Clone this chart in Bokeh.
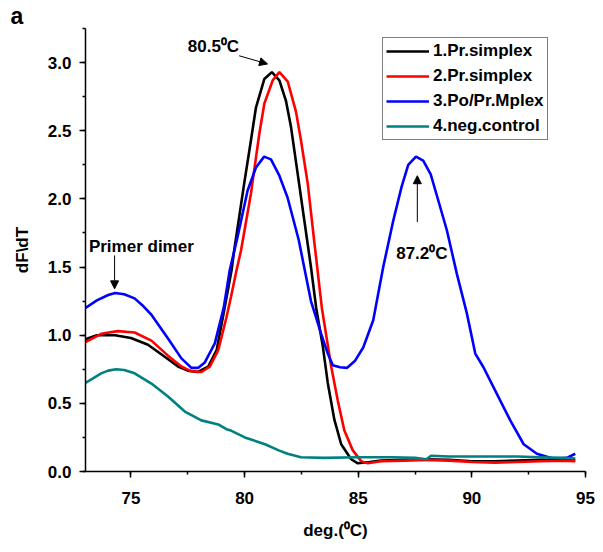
from bokeh.plotting import figure
from bokeh.models import (Range1d, SingleIntervalTicker, NumeralTickFormatter,
                          Legend, LegendItem, Label, Arrow, NormalHead)
from bokeh.embed import file_html
from bokeh.resources import INLINE

FONT = "Liberation Sans"

# ---------------- data ----------------
x_black = [73.0, 73.5, 74.3, 75.0, 75.75, 76.5, 77.07, 77.5, 77.95, 78.4, 78.77, 79.12,
           79.43, 79.54, 79.98, 80.28, 80.5, 80.87, 81.2, 81.53, 81.82, 82.04, 82.34,
           82.63, 82.92, 83.15, 83.44, 83.66, 83.95, 84.25, 84.69, 84.98, 85.5, 86.0,
           87.0, 88.0, 89.0, 90.0, 91.0, 92.0, 93.0, 94.55]
y_black = [0.97, 1.00, 1.00, 0.98, 0.93, 0.84, 0.77, 0.74, 0.73, 0.77, 0.89, 1.20,
           1.48, 1.62, 2.11, 2.43, 2.67, 2.88, 2.93, 2.87, 2.72, 2.53, 2.18,
           1.84, 1.50, 1.20, 0.92, 0.65, 0.38, 0.20, 0.09, 0.06, 0.07, 0.08,
           0.085, 0.09, 0.085, 0.075, 0.075, 0.08, 0.085, 0.085]

x_red = [73.0, 73.69, 74.42, 75.16, 75.9, 76.63, 77.22, 77.66, 78.1, 78.47, 78.84, 79.2,
         79.4, 79.65, 79.84, 80.28, 80.65, 80.87, 81.24, 81.53, 81.9, 82.26, 82.48,
         82.78, 83.07, 83.4, 83.81, 84.1, 84.39, 84.76, 85.13, 85.42, 86.0, 87.0,
         88.0, 89.0, 90.0, 91.0, 92.0, 93.0, 94.0, 94.55]
y_red = [0.95, 1.01, 1.03, 1.02, 0.96, 0.85, 0.77, 0.735, 0.73, 0.77, 0.89, 1.13,
         1.28, 1.48, 1.62, 2.04, 2.48, 2.70, 2.87, 2.93, 2.86, 2.64, 2.43,
         2.11, 1.68, 1.20, 0.77, 0.52, 0.30, 0.155, 0.076, 0.06, 0.075, 0.08,
         0.085, 0.08, 0.07, 0.065, 0.07, 0.075, 0.08, 0.075]

x_blue = [73.0, 73.5, 74.0, 74.3, 74.7, 75.16, 75.5, 75.9, 76.63, 77.22, 77.66, 77.95,
          78.25, 78.69, 79.08, 79.35, 79.69, 80.13, 80.5, 80.86, 81.16, 81.53, 81.89,
          82.38, 82.92, 83.37, 83.66, 83.88, 84.2, 84.5, 84.85, 85.22, 85.66, 86.1,
          86.54, 86.91, 87.2, 87.54, 87.86, 88.19, 88.52, 88.9, 89.34, 89.78, 90.15,
          90.51, 91.1, 91.69, 92.28, 92.86, 93.6, 94.18, 94.55]
y_blue = [1.20, 1.255, 1.295, 1.31, 1.30, 1.27, 1.22, 1.15, 0.975, 0.83, 0.76, 0.76,
          0.80, 0.94, 1.20, 1.48, 1.72, 2.06, 2.23, 2.31, 2.29, 2.17, 2.01,
          1.70, 1.25, 1.01, 0.865, 0.78, 0.765, 0.76, 0.81, 0.91, 1.11, 1.50,
          1.84, 2.09, 2.25, 2.31, 2.28, 2.18, 1.99, 1.77, 1.45, 1.16, 0.865,
          0.765, 0.57, 0.375, 0.20, 0.13, 0.093, 0.10, 0.13]

x_teal = [73.0, 73.69, 74.0, 74.35, 74.7, 75.16, 75.9, 76.63, 77.37, 78.1, 78.84, 79.2,
          79.4, 80.01, 80.9, 81.5, 81.89, 82.48, 83.5, 85.0, 86.5, 87.5, 88.0, 88.2,
          89.0, 90.0, 91.0, 92.0, 93.0, 94.0, 94.55]
y_teal = [0.65, 0.72, 0.74, 0.75, 0.745, 0.72, 0.645, 0.55, 0.44, 0.375, 0.345, 0.31,
          0.30, 0.25, 0.20, 0.155, 0.13, 0.105, 0.10, 0.105, 0.105, 0.10, 0.09, 0.115,
          0.11, 0.11, 0.11, 0.11, 0.105, 0.10, 0.095]

series_labels = ["1.Pr.simplex", "2.Pr.simplex", "3.Po/Pr.Mplex", "4.neg.control"]
series_colors = ["#000000", "#ff0000", "#0000ff", "#008080"]

x_ticks_interval = 5
y_ticks_interval = 0.5

# ---------------- figure ----------------
p = figure(width=603, height=552, output_backend="svg", toolbar_location=None,
           x_range=Range1d(73, 95), y_range=Range1d(0, 3.25),
           min_border_left=85, min_border_right=18, min_border_top=27,
           min_border_bottom=81, title="a")
p.outline_line_color = None
p.grid.visible = False
p.background_fill_color = "white"
p.border_fill_color = "white"

# panel letter as the title, pushed to the left edge
p.title.text_font = FONT
p.title.text_font_size = "23px"
p.title.text_font_style = "bold"
p.title.text_color = "black"
p.title.align = "left"
p.title.standoff = 0
p.title.offset = -75

p.xaxis.ticker = SingleIntervalTicker(interval=x_ticks_interval, num_minor_ticks=2)
p.yaxis.ticker = SingleIntervalTicker(interval=y_ticks_interval, num_minor_ticks=2)
p.yaxis.formatter = NumeralTickFormatter(format="0.0")
p.xaxis.axis_label = "deg.(⁰C)"
p.yaxis.axis_label = "dF\\dT"

for ax in (p.xaxis, p.yaxis):
    ax.axis_line_width = 1.5
    ax.axis_line_color = "black"
    ax.major_tick_line_width = 1.5
    ax.minor_tick_line_width = 1.5
    ax.major_tick_line_color = "black"
    ax.minor_tick_line_color = "black"
    ax.major_tick_in = 0
    ax.major_tick_out = 6
    ax.minor_tick_in = 0
    ax.minor_tick_out = 3
    ax.major_label_text_font = FONT
    ax.major_label_text_font_size = "17px"
    ax.major_label_text_font_style = "bold"
    ax.major_label_text_color = "black"
    ax.axis_label_text_font = FONT
    ax.axis_label_text_font_size = "17px"
    ax.axis_label_text_font_style = "bold"
    ax.axis_label_text_color = "black"

p.xaxis.major_label_standoff = 14
p.xaxis.axis_label_standoff = 14
p.yaxis.major_label_standoff = 8
p.yaxis.axis_label_standoff = 13

renderers = []
for xs, ys, c in zip([x_black, x_red, x_blue, x_teal],
                     [y_black, y_red, y_blue, y_teal], series_colors):
    r = p.line(xs, ys, line_color=c, line_width=2.6)
    renderers.append(r)

legend = Legend(items=[LegendItem(label=lab, renderers=[r])
                       for lab, r in zip(series_labels, renderers)],
                location=(297, 331))
legend.label_text_font = FONT
legend.label_text_font_size = "17px"
legend.label_text_font_style = "bold"
legend.label_text_color = "black"
legend.glyph_width = 43
legend.glyph_height = 20
legend.label_height = 20
legend.label_standoff = 4
legend.spacing = 5
legend.padding = 3
legend.border_line_color = "black"
legend.border_line_width = 1
legend.background_fill_alpha = 1.0
p.add_layout(legend)

# ---------------- annotations ----------------
def add_text(txt, x, y, size="17px", baseline="middle"):
    p.add_layout(Label(x=x, y=y, text=txt, text_font=FONT, text_font_size=size,
                       text_font_style="bold", text_color="black",
                       text_align="left", text_baseline=baseline))

add_text("80.5⁰C", 77.5, 3.12)
add_text("87.2⁰C", 86.67, 1.60)
add_text("Primer dimer", 73.15, 1.65)

for (x0, y0, x1, y1) in [(79.76, 3.05, 81.01, 2.99),
                         (87.6, 1.83, 87.6, 2.17),
                         (74.28, 1.585, 74.28, 1.34)]:
    p.add_layout(Arrow(x_start=x0, y_start=y0, x_end=x1, y_end=y1,
                       line_color="black", line_width=1,
                       end=NormalHead(size=8, fill_color="black", line_color="black")))

open("out.html", "w").write(file_html(p, INLINE))
